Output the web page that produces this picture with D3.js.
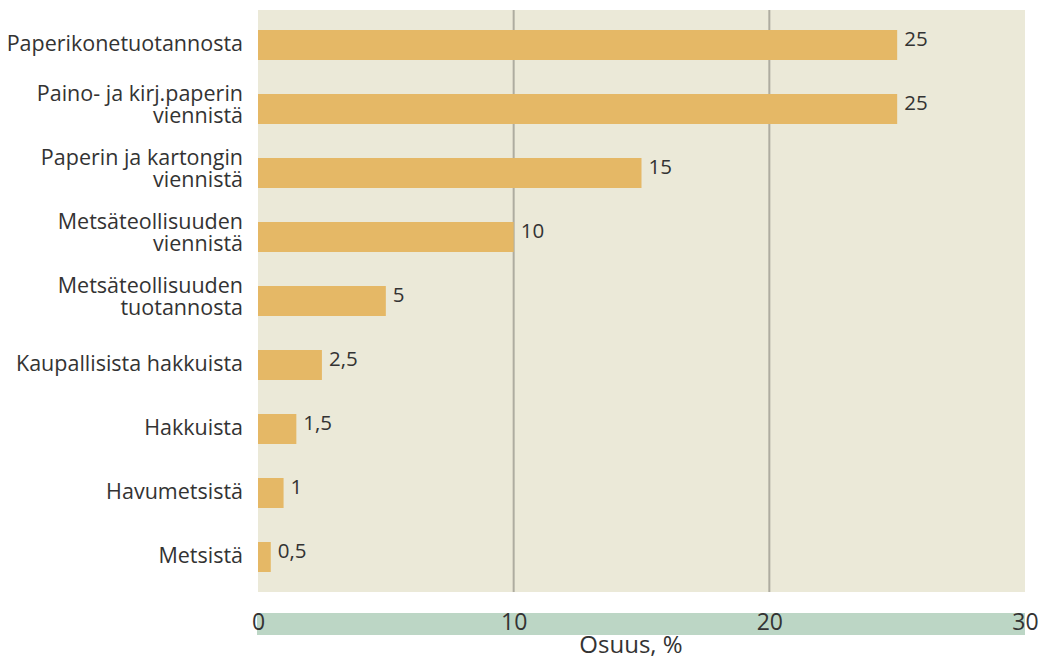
<!DOCTYPE html>
<html><head><meta charset="utf-8">
<script src="https://cdn.jsdelivr.net/npm/d3@7"></script>
<style>body{margin:0;background:#fff}svg{display:block}text{font-family:"Open Sans","Liberation Sans",Arial,sans-serif;fill:#333}</style>
</head><body><svg id="c" width="1040" height="661"></svg>
<script>
const categories = [
  ["Paperikonetuotannosta"],
  ["Paino- ja kirj.paperin","viennistä"],
  ["Paperin ja kartongin","viennistä"],
  ["Metsäteollisuuden","viennistä"],
  ["Metsäteollisuuden","tuotannosta"],
  ["Kaupallisista hakkuista"],
  ["Hakkuista"],
  ["Havumetsistä"],
  ["Metsistä"]
];
const values = [25, 25, 15, 10, 5, 2.5, 1.5, 1, 0.5];
const valueLabels = ["25","25","15","10","5","2,5","1,5","1","0,5"];
const ticks = [0, 10, 20, 30];
const axisTitle = "Osuus, %";

const svg = d3.select("#c");
const L = 258, R = 1025, T = 10, B = 592;
const FONT = '"Open Sans","Liberation Sans",Arial,sans-serif';
const x = d3.scaleLinear().domain([0, 30]).range([L, R]);
const keys = categories.map((c,i)=>i);
const y = d3.scaleBand().domain(keys).range([13, 589]).paddingInner(34/64).paddingOuter(17/64);

svg.append("rect").attr("x", L).attr("y", T).attr("width", R - L).attr("height", B - T).attr("fill", "#ebe9d8");

svg.append("g").selectAll("line").data(ticks.filter(t => t > 0 && t < 30)).join("line")
  .attr("x1", d => x(d)).attr("x2", d => x(d)).attr("y1", T).attr("y2", B)
  .attr("stroke", "#aeaca0").attr("stroke-width", 2);

svg.append("g").selectAll("rect").data(values).join("rect")
  .attr("x", x(0)).attr("y", (d,i) => y(i)).attr("width", d => x(d) - x(0)).attr("height", y.bandwidth())
  .attr("fill", "#e5b866");

svg.append("g").selectAll("text").data(valueLabels).join("text")
  .attr("x", (d,i) => x(values[i]) + 7).attr("y", (d,i) => y(i) + y.bandwidth()/2 + 1)
  .attr("font-size", 20.5).text(d => d);

const cat = svg.append("g").selectAll("text").data(categories).join("text")
  .attr("text-anchor", "end").attr("font-size", 21.5)
  .attr("y", (d,i) => y(i) + y.bandwidth()/2);
cat.each(function(d){
  const t = d3.select(this);
  if (d.length === 1) {
    t.append("tspan").attr("x", 243).attr("dy", 6).text(d[0]);
  } else {
    t.append("tspan").attr("x", 243).attr("dy", -8).text(d[0]);
    t.append("tspan").attr("x", 243).attr("dy", 22).text(d[1]);
  }
});

// bottom axis band
svg.append("rect").attr("x", x(0) - 1).attr("y", 613).attr("width", x(30) - x(0) + 1).attr("height", 22).attr("fill", "#bcd6c5");
const ax = svg.append("g").attr("transform", "translate(0,630)")
  .call(d3.axisBottom(x).tickValues(ticks).tickSize(0).tickPadding(0).tickFormat(d3.format("d")));
ax.select(".domain").remove();
ax.selectAll("text").attr("y", 0).attr("dy", 0).attr("font-size", 23).attr("fill", "#333")
  .style("font-family", FONT);

svg.append("text").attr("x", 631).attr("y", 653).attr("text-anchor", "middle").attr("font-size", 24).text(axisTitle);
</script></body></html>
